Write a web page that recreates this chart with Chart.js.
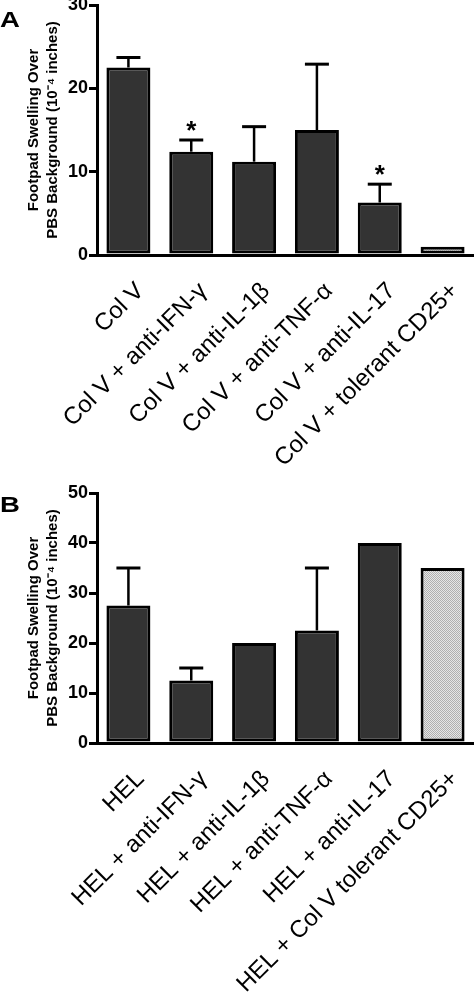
<!DOCTYPE html>
<html>
<head>
<meta charset="utf-8">
<script src="https://cdn.jsdelivr.net/npm/chart.js@4.4.0/dist/chart.umd.min.js"></script>
<style>
  body { margin: 0; background: #fff; width: 474px; height: 1004px; position: relative; overflow: hidden; }
  canvas { position: absolute; left: 0; }
  .panel { position: absolute; left: 0; font: bold 22px "Liberation Sans", Arial, sans-serif; line-height: 22px;
           transform: scaleX(1.25); transform-origin: 0 0; }
</style>
</head>
<body>
<canvas id="chartA" width="474" height="488" style="top:0px"></canvas>
<canvas id="chartB" width="474" height="526" style="top:478px"></canvas>
<div class="panel" style="top:9px">A</div>
<div class="panel" style="top:494px">B</div>
<script>
// panel A
const labelsA = ["Col V", "Col V + anti-IFN-γ", "Col V + anti-IL-1β", "Col V + anti-TNF-α", "Col V + anti-IL-17", "Col V + tolerant CD25+"];
const valuesA = [22.5, 12.4, 11.2, 15.0, 6.3, 1.0];
const errorsA = [1.2, 1.4, 4.2, 7.9, 2.2, 0];
const starsA = [false, true, false, false, true, false];
const ticksA = [0, 10, 20, 30];

// panel B
const labelsB = ["HEL", "HEL + anti-IFN-γ", "HEL + anti-IL-1β", "HEL + anti-TNF-α", "HEL + anti-IL-17", "HEL + Col V tolerant CD25+"];
const valuesB = [27.5, 12.5, 20, 22.5, 40, 35];
const errorsB = [7.5, 2.5, 0, 12.5, 0, 0];
const starsB = [false, false, false, false, false, false];
const ticksB = [0, 10, 20, 30, 40, 50];

const yTitle = ["Footpad Swelling Over", "PBS Background (10\u207B\u2074 inches)"];

// stippled grey fill for the last bar
function stipple() {
    const c = document.createElement('canvas');
    c.width = 2; c.height = 2;
    const g = c.getContext('2d');
    g.fillStyle = '#e6e6e6'; g.fillRect(0, 0, 2, 2);
    g.fillStyle = '#b0b0b0'; g.fillRect(0, 0, 1, 1); g.fillRect(1, 1, 1, 1);
    return g.createPattern(c, 'repeat');
}

// error bars (upper only) and significance stars
const errorBars = {
    id: 'errorBars',
    afterDatasetsDraw(chart, args, opts) {
        const ctx = chart.ctx;
        const y = chart.scales.y;
        const bars = chart.getDatasetMeta(0).data;
        const vals = chart.data.datasets[0].data;
        ctx.save();
        ctx.strokeStyle = '#000';
        bars.forEach((bar, i) => {
            const e = opts.errors[i];
            let top = bar.y;
            if (e) {
                top = y.getPixelForValue(vals[i] + e);
                ctx.lineWidth = 2.5;
                ctx.beginPath();
                ctx.moveTo(bar.x, bar.y);
                ctx.lineTo(bar.x, top);
                ctx.stroke();
                ctx.lineWidth = 3;
                ctx.beginPath();
                ctx.moveTo(bar.x - 12, top);
                ctx.lineTo(bar.x + 12, top);
                ctx.stroke();
            }
            if (opts.stars[i]) {
                ctx.fillStyle = '#000';
                ctx.font = 'bold 26px "Liberation Sans", Arial, sans-serif';
                ctx.textAlign = 'center';
                ctx.textBaseline = 'alphabetic';
                ctx.fillText('*', bar.x, top - 1);
            }
        });
        ctx.restore();
    }
};

function makeChart(id, labels, values, errors, stars, ticks, height, top) {
    const fills = values.map((v, i) => i == values.length - 1 ? stipple() : '#333333');
    return new Chart(document.getElementById(id), {
        type: 'bar',
        data: {
            labels: labels,
            datasets: [{
                data: values,
                backgroundColor: fills,
                borderColor: '#000',
                borderWidth: 3,
                borderSkipped: false,
                barPercentage: 0.7,
                categoryPercentage: 1.0
            }]
        },
        options: {
            responsive: false,
            animation: false,
            devicePixelRatio: 1,
            layout: { padding: { top: top, left: 0, right: 0, bottom: 0 } },
            plugins: {
                legend: { display: false },
                tooltip: { enabled: false },
                errorBars: { errors: errors, stars: stars }
            },
            scales: {
                x: {
                    grid: { display: false },
                    border: { display: true, color: '#000', width: 3 },
                    ticks: {
                        autoSkip: false,
                        maxRotation: 45,
                        minRotation: 45,
                        padding: 14,
                        labelOffset: 12,
                        color: '#000',
                        font: { family: '"Liberation Sans", Arial, sans-serif', size: 24 }
                    },
                    afterFit: s => { s.height = height - top - 250; s.paddingLeft = 0; s.paddingRight = 0; }
                },
                y: {
                    min: 0,
                    max: ticks[ticks.length - 1],
                    afterBuildTicks: s => { s.ticks = ticks.map(v => ({ value: v })); },
                    grid: { drawOnChartArea: false, drawTicks: true, tickLength: 8, color: '#000', lineWidth: 3 },
                    border: { display: true, color: '#000', width: 3 },
                    ticks: {
                        padding: 1,
                        color: '#000',
                        font: { family: '"Liberation Sans", Arial, sans-serif', size: 18, weight: 'bold' }
                    },
                    title: {
                        display: true,
                        text: yTitle,
                        color: '#000',
                        padding: { top: 24, bottom: 0 },
                        font: { family: '"Liberation Sans", Arial, sans-serif', size: 15, weight: 'bold', lineHeight: 1.27 }
                    },
                    afterFit: s => { s.width = 97; s.paddingTop = 0; s.paddingBottom = 0; }
                }
            }
        },
        plugins: [errorBars]
    });
}

makeChart('chartA', labelsA, valuesA, errorsA, starsA, ticksA, 488, 5);
makeChart('chartB', labelsB, valuesB, errorsB, starsB, ticksB, 526, 15);
</script>
</body>
</html>
